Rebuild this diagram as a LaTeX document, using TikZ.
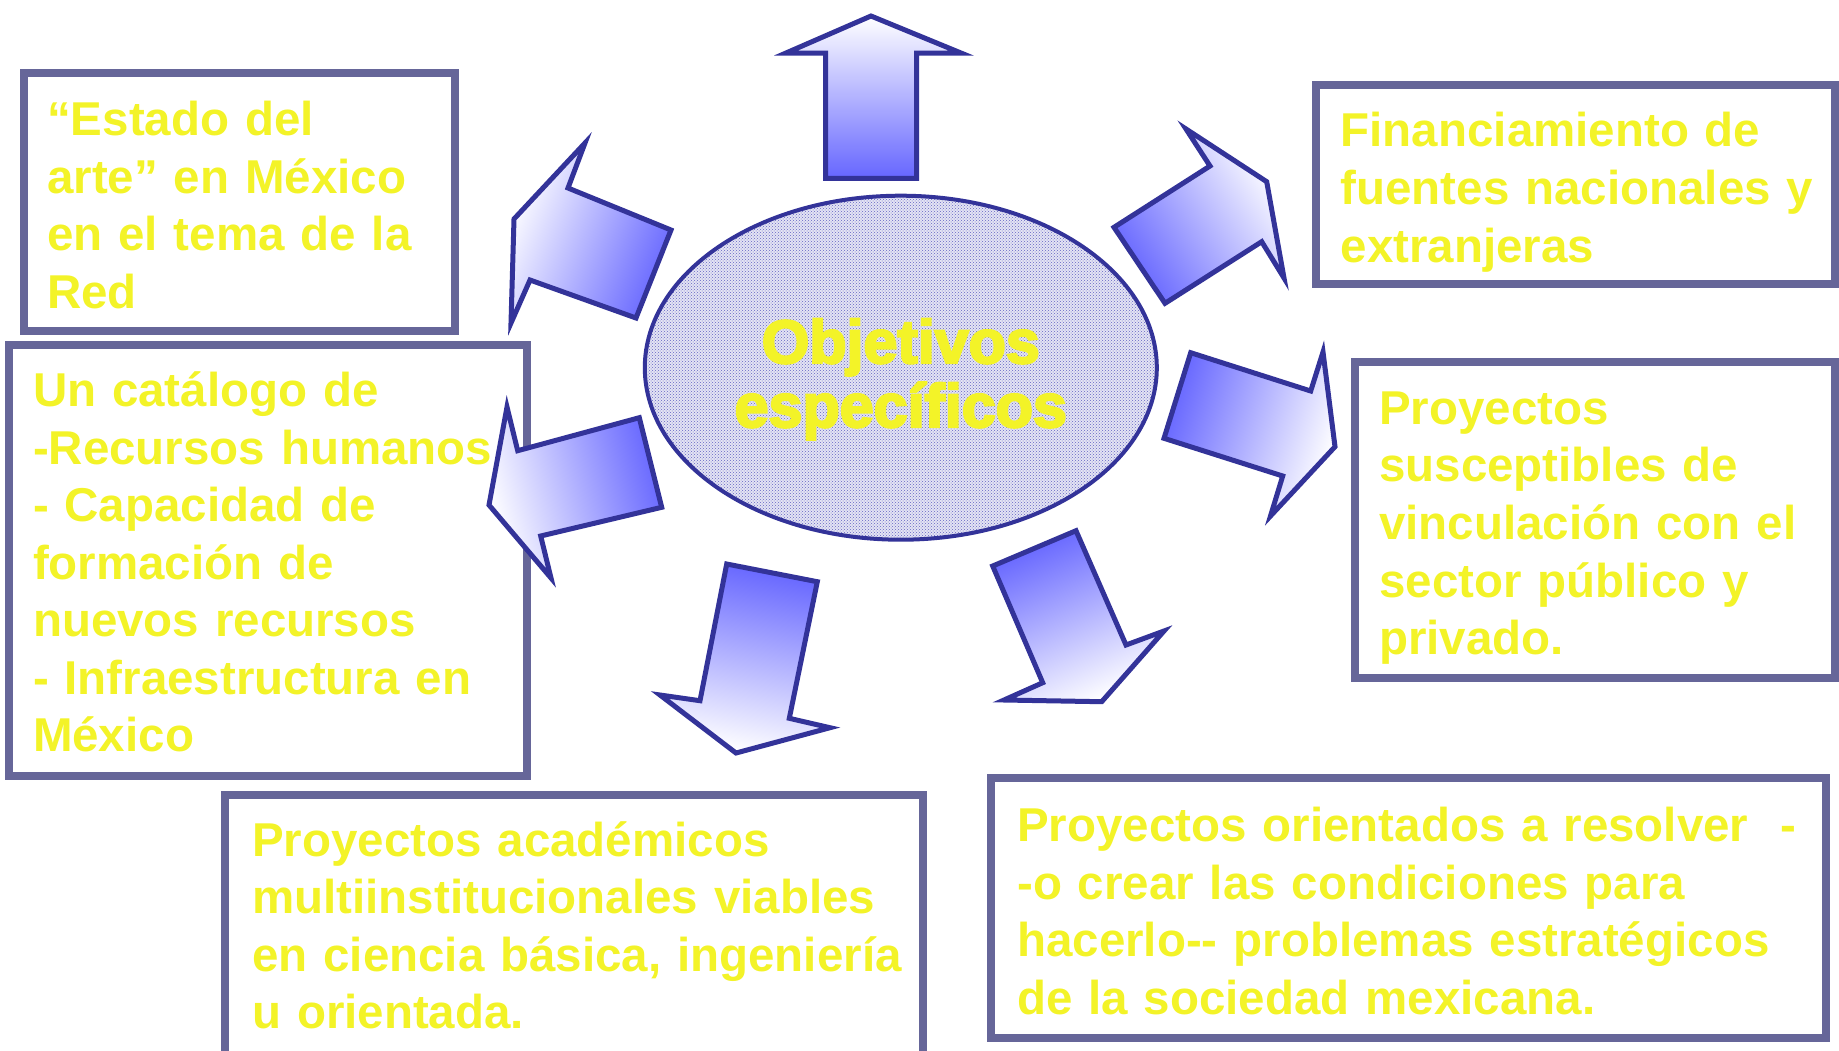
\documentclass[tikz,border=0pt]{standalone}
\usepackage{fontspec}
\setmainfont{Liberation Sans}
\newfontfamily\heavyfont{Liberation Sans}[BoldFeatures={FakeBold=4}]
\usetikzlibrary{patterns,shapes.geometric}
\definecolor{boxline}{RGB}{102,102,153}
\definecolor{arrline}{RGB}{51,51,153}
\definecolor{arrblue}{RGB}{102,102,255}
\definecolor{txtyellow}{RGB}{243,243,40}
\definecolor{ellfill}{RGB}{228,228,244}
\definecolor{ellpat}{RGB}{100,100,195}
\begin{document}
\begin{tikzpicture}[x=1pt,y=-1pt,
  frame/.style={draw=boxline,line width=8pt},
  blockarrow/.style={draw=arrline,line width=5pt,line join=miter,top color=white,bottom color=arrblue},
  boxtext/.style={anchor=base west,inner sep=0pt,text=txtyellow,
    font=\fontsize{47.5}{57.5}\selectfont\bfseries,align=left,text width=820pt},
]
\useasboundingbox (0,0) rectangle (1839,1050);

% boxes
\draw[frame] (23.5,72.7) rectangle (455,330.7);
\draw[frame] (9.4,344.8) rectangle (526.6,776.4);
\draw[frame] (1316,85) rectangle (1835,284);
\draw[frame] (1354.6,362.4) rectangle (1835,678);
\draw[frame] (225,795) rectangle (923,1075);
\draw[frame] (991,777.6) rectangle (1826,1038);

% central ellipse
\node[ellipse,draw=arrline,line width=4pt,minimum width=512pt,minimum height=344pt,inner sep=0pt,
  preaction={fill=ellfill},pattern=crosshatch dots,pattern color=ellpat] (center) at (900.8,367.7) {};
\node[anchor=base,inner sep=0pt,text=txtyellow,align=center,text width=500pt,
  font=\heavyfont\fontsize{61}{64}\selectfont\bfseries] (ctitle) at (900.8,363)
  {Objetivos\\específicos};

% arrows
\draw[blockarrow,shading angle=0] (871,16) -- (786,53) -- (825.7,53) -- (825.7,178.3)
  -- (916.7,178.3) -- (916.7,53) -- (961,53) -- cycle;
\draw[blockarrow,shading angle=68] (585,143) -- (514,219) -- (511,323) -- (530,280)
  -- (636,318) -- (671,230) -- (568,188) -- cycle;
\draw[blockarrow,shading angle=105] (507,407) -- (517.7,450.7) -- (639.3,417.7) -- (661.7,507.3)
  -- (540.7,536) -- (551,578) -- (489,505) -- cycle;
\draw[blockarrow,shading angle=169] (726.7,564) -- (817.3,581.7) -- (789.3,718.3) -- (830,727.7)
  -- (736,753) -- (660,695) -- (700,700.7) -- cycle;
\draw[blockarrow,shading angle=-156] (992.7,566) -- (1076,530.7) -- (1126,645) -- (1164,631)
  -- (1101.7,701.7) -- (1004,700) -- (1042.7,682.7) -- cycle;
\draw[blockarrow,shading angle=-108] (1190.7,352.7) -- (1310.7,391) -- (1323,352) -- (1335,446.7)
  -- (1270.5,516) -- (1282.7,476) -- (1164,438.3) -- cycle;
\draw[blockarrow,shading angle=-57] (1114,227.3) -- (1210,166) -- (1186,129) -- (1266.7,181.7)
  -- (1284,278) -- (1261.7,241.7) -- (1165,303.3) -- cycle;

% texts
\node[boxtext] (t1) at (47,135.5) {“Estado del\\arte” en México\\en el tema de la\\Red};
\node[boxtext] (t2) at (32.8,406.5) {Un catálogo de\\-Recursos humanos\\- Capacidad de\\formación de\\nuevos recursos\\- Infraestructura en\\México};
\node[boxtext,font=\fontsize{47.5}{58}\selectfont\bfseries] (t3) at (1340.5,146) {Financiamiento de\\fuentes nacionales y\\extranjeras};
\node[boxtext,font=\fontsize{47.5}{57.7}\selectfont\bfseries] (t4) at (1379,424) {Proyectos\\susceptibles de\\vinculación con el\\sector público y\\privado.};
\node[boxtext,font=\fontsize{47.5}{57.2}\selectfont\bfseries] (t5) at (252,856.7) {Proyectos académicos\\multiinstitucionales viables\\en ciencia básica, ingeniería\\u orientada.};
\node[boxtext,font=\fontsize{47.5}{57.5}\selectfont\bfseries] (t6) at (1017,841.5) {Proyectos orientados a resolver~~-\\-o crear las condiciones para\\hacerlo-{}- problemas estratégicos\\de la sociedad mexicana.};
\end{tikzpicture}
\end{document}
